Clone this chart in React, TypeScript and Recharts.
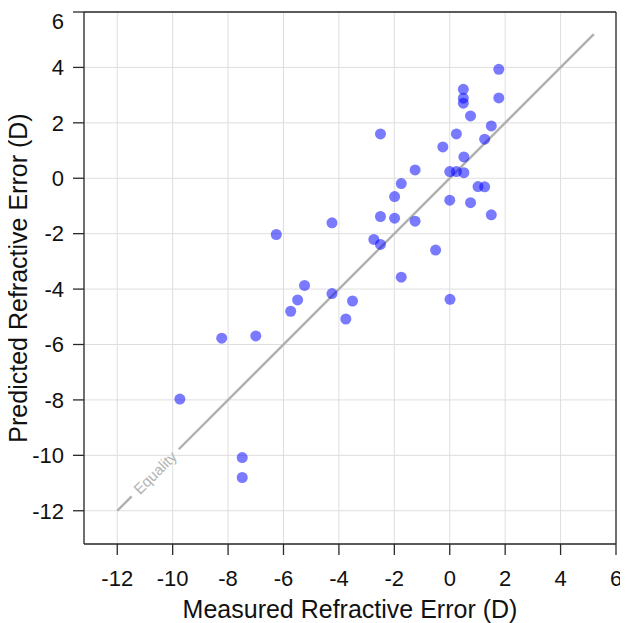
import React from 'react';
import {
  ScatterChart,
  Scatter,
  XAxis,
  YAxis,
  CartesianGrid,
  ReferenceLine,
  ReferenceDot,
} from 'recharts';

// Measured refractive error (D) for each eye
const measured = [
  1.77, 0.49, 0.49, 0.49, 1.77, 0.75, 1.5, -2.5, 0.24, 1.26, -0.25, 0.51, -1.25, 0.0, 0.24,
  0.51, -1.75, 1.02, 1.26, -1.99, 0.0, 0.75, 1.5, -4.25, -2.5, -1.99, -1.25, -2.74, -2.5,
  -0.51, -1.75, -5.24, -4.25, -3.51, 0.01, -3.75, -6.26, -5.49, -5.74, -8.23, -7.0, -9.74,
  -7.49, -7.49,
];

// Predicted refractive error (D)
const predicted = [
  3.93, 3.21, 2.89, 2.71, 2.9, 2.25, 1.89, 1.6, 1.6, 1.41, 1.13, 0.77, 0.3, 0.24, 0.24, 0.2,
  -0.19, -0.3, -0.31, -0.66, -0.79, -0.88, -1.32, -1.61, -1.38, -1.44, -1.55, -2.21, -2.39,
  -2.59, -3.57, -3.87, -4.16, -4.43, -4.37, -5.08, -2.03, -4.39, -4.8, -5.77, -5.69, -7.97,
  -10.08, -10.8,
];

const xTicks = [-12, -10, -8, -6, -4, -2, 0, 2, 4, 6];
const yTicks = [-12, -10, -8, -6, -4, -2, 0, 2, 4, 6];
const axisDomain: [number, number] = [-13.2, 6];

// Equality line (y = x), with a gap where the label sits
const equalityStart = -12;
const equalityGapStart = -11.48;
const equalityGapEnd = -9.78;
const equalityEnd = 5.2;
const equalityLabelAt = -10.63;
const equalityLabel = 'Equality';

const xTitle = 'Measured Refractive Error (D)';
const yTitle = 'Predicted Refractive Error (D)';

const points = measured.map((m, i) => ({ x: m, y: predicted[i] }));

const axisColor = '#2a2a2a';
const lineColor = '#b0b0b0';
const fontFamily = '"Liberation Sans", Arial, Helvetica, sans-serif';

const Dot = (props: any) => {
  const { cx, cy } = props;
  if (cx == null || cy == null) return null;
  return <circle cx={cx} cy={cy} r={5.5} fill="#0000ff" fillOpacity={0.52} />;
};

const XTitle = (props: any) => {
  const vb = props.viewBox || {};
  const cx = vb.x + vb.width / 2;
  const y = vb.y + vb.height - 5;
  return (
    <text x={cx} y={y} textAnchor="middle" fontSize={25} fill="#111" fontFamily={fontFamily}>
      {xTitle}
    </text>
  );
};

const YTitle = (props: any) => {
  const vb = props.viewBox || {};
  const x = (vb.x || 0) + 19;
  const cy = vb.y + vb.height / 2;
  return (
    <text
      x={x}
      y={cy}
      textAnchor="middle"
      fontSize={25}
      fill="#111"
      fontFamily={fontFamily}
      transform={`rotate(-90, ${x}, ${cy})`}
    >
      {yTitle}
    </text>
  );
};

const EqualityText = (props: any) => {
  const vb = props.viewBox || {};
  const cx = vb.x + (vb.width || 0) / 2;
  const cy = vb.y + (vb.height || 0) / 2;
  return (
    <text
      x={cx}
      y={cy}
      dy="0.35em"
      textAnchor="middle"
      fontSize={15}
      fill="#b3b3b3"
      fontFamily={fontFamily}
      transform={`rotate(-45, ${cx}, ${cy})`}
    >
      {equalityLabel}
    </text>
  );
};

export default function App() {
  return (
    <div style={{ width: 620, height: 615, fontFamily }}>
      <style>{`.recharts-surface, .recharts-wrapper svg { overflow: visible !important; }`}</style>
      <ScatterChart width={620} height={615} margin={{ top: 0, right: 0, bottom: 0, left: 0 }}>
        <CartesianGrid stroke="#dedede" strokeWidth={1} />
        <XAxis
          dataKey="x"
          type="number"
          domain={axisDomain}
          ticks={xTicks}
          allowDataOverflow
          height={79}
          tickSize={11}
          tickMargin={15}
          tick={{ fontSize: 22, fill: '#111', fontFamily }}
          stroke={axisColor}
          strokeWidth={1.3}
          label={<XTitle />}
        />
        <XAxis
          xAxisId="top"
          orientation="top"
          type="number"
          domain={axisDomain}
          ticks={xTicks}
          allowDataOverflow
          height={4}
          tickSize={12}
          tick={false}
          stroke={axisColor}
          strokeWidth={1.3}
        />
        <YAxis
          dataKey="y"
          type="number"
          domain={axisDomain}
          ticks={yTicks}
          allowDataOverflow
          width={76}
          tickSize={11}
          tickMargin={9}
          tick={{ fontSize: 22, fill: '#111', fontFamily }}
          stroke={axisColor}
          strokeWidth={1.3}
          label={<YTitle />}
        />
        <YAxis
          yAxisId="right"
          orientation="right"
          type="number"
          domain={axisDomain}
          ticks={yTicks}
          allowDataOverflow
          width={12}
          tickSize={12}
          tick={false}
          stroke={axisColor}
          strokeWidth={1.3}
        />
        <ReferenceLine
          segment={[
            { x: equalityStart, y: equalityStart },
            { x: equalityGapStart, y: equalityGapStart },
          ]}
          stroke={lineColor}
          strokeWidth={2.4}
        />
        <ReferenceLine
          segment={[
            { x: equalityGapEnd, y: equalityGapEnd },
            { x: equalityEnd, y: equalityEnd },
          ]}
          stroke={lineColor}
          strokeWidth={2.4}
        />
        <ReferenceDot
          x={equalityLabelAt}
          y={equalityLabelAt}
          r={0}
          fill="none"
          stroke="none"
          label={<EqualityText />}
        />
        <Scatter data={points} shape={<Dot />} isAnimationActive={false} />
      </ScatterChart>
    </div>
  );
}
